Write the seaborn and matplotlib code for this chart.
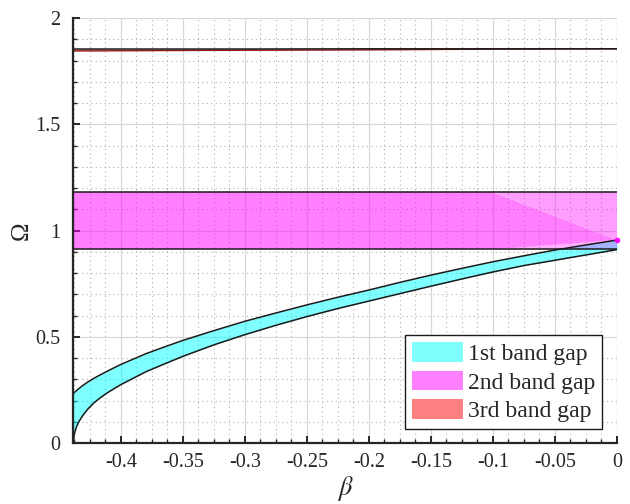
import numpy as np
import pandas as pd
import matplotlib
matplotlib.use("Agg")
import matplotlib.pyplot as plt
from matplotlib.patches import Patch, Polygon
from matplotlib.ticker import MultipleLocator, FixedLocator
import seaborn as sns

# ---- data -------------------------------------------------------------
beta_min = -0.4387
beta_max = 0.0

# 1st band gap: lower / upper edges
beta_1 = [-0.4387, -0.4375, -0.436, -0.434, -0.431, -0.427, -0.422, -0.416,
          -0.41, -0.40, -0.39, -0.38, -0.365, -0.35, -0.325, -0.30, -0.275,
          -0.25, -0.225, -0.20, -0.175, -0.15, -0.125, -0.10, -0.075, -0.05,
          -0.025, 0.0]
omega_1_low = [0.0, 0.045, 0.075, 0.100, 0.128, 0.158, 0.188, 0.216,
               0.240, 0.275, 0.305, 0.335, 0.372, 0.408, 0.462, 0.510, 0.554,
               0.595, 0.633, 0.668, 0.703, 0.738, 0.772, 0.805, 0.835, 0.860,
               0.885, 0.910]
omega_1_up = [0.232, 0.238, 0.246, 0.256, 0.270, 0.286, 0.304, 0.323,
              0.341, 0.370, 0.395, 0.420, 0.452, 0.483, 0.529, 0.573, 0.612,
              0.650, 0.686, 0.720, 0.756, 0.790, 0.822, 0.853, 0.881, 0.908,
              0.932, 0.955]

# 2nd band gap
omega_2_low = 0.911
omega_2_up = 1.18
beta_2_break = -0.10

# 3rd band gap
beta_3 = [-0.4387, -0.30, -0.20, -0.10, 0.0]
omega_3_low = [1.845, 1.848, 1.850, 1.853, 1.855]
omega_3_up = [1.854, 1.854, 1.855, 1.855, 1.855]

legend_labels = ["1st band gap", "2nd band gap", "3rd band gap"]
band_colors = ["#80FFFF", "#FF80FF", "#FF8080"]

x_ticks = [-0.4, -0.35, -0.3, -0.25, -0.2, -0.15, -0.1, -0.05, 0.0]
x_tick_labels = ["-0.4", "-0.35", "-0.3", "-0.25", "-0.2", "-0.15", "-0.1", "-0.05", "0"]
y_ticks = [0, 0.5, 1, 1.5, 2]
y_tick_labels = ["0", "0.5", "1", "1.5", "2"]

# ---- style ------------------------------------------------------------
sns.set_theme(style="white")
plt.rcParams["font.family"] = ["Liberation Serif", "DejaVu Serif"]
plt.rcParams["mathtext.fontset"] = "stix"
plt.rcParams["axes.unicode_minus"] = False

fig = plt.figure(figsize=(6.3, 5.04), dpi=100)
ax = fig.add_axes([73 / 630, 1 - 443 / 504, 544 / 630, 425 / 504])

ax.set_xlim(beta_min, beta_max)
ax.set_ylim(0, 2)

# grid
ax.xaxis.set_major_locator(FixedLocator(x_ticks))
ax.xaxis.set_minor_locator(MultipleLocator(0.0125))
ax.yaxis.set_major_locator(FixedLocator(y_ticks))
ax.yaxis.set_minor_locator(MultipleLocator(0.1))
ax.set_axisbelow(True)
ax.grid(which="major", color="#d8d8d8", lw=0.9, ls="-")
ax.grid(which="minor", color="#b0b0b0", lw=0.8, ls=(0, (1, 3)))

# 1st band gap
ax.fill_between(beta_1, omega_1_low, omega_1_up, color="cyan", alpha=0.5, lw=0, zorder=2)
df1 = pd.DataFrame({"beta": beta_1 * 2,
                    "omega": omega_1_low + omega_1_up,
                    "edge": ["low"] * len(beta_1) + ["up"] * len(beta_1)})
sns.lineplot(data=df1, x="beta", y="omega", units="edge", estimator=None,
             color="#1a1a1a", lw=1.1, ax=ax, sort=False, zorder=4)

# 2nd band gap
ax.fill_between([beta_min, beta_2_break], omega_2_low, omega_2_up,
                color="magenta", alpha=0.5, lw=0, zorder=2)
omega_1_end = omega_1_up[-1]
ax.add_patch(Polygon([(beta_2_break, omega_2_up), (beta_max, omega_1_end),
                      (beta_2_break, omega_2_low)],
                     closed=True, facecolor="magenta", alpha=0.5, lw=0, zorder=2))
ax.add_patch(Polygon([(beta_2_break, omega_2_up), (beta_max, omega_2_up),
                      (beta_max, omega_1_end)],
                     closed=True, facecolor="magenta", alpha=0.38, lw=0, zorder=2))
ax.add_patch(Polygon([(beta_2_break, omega_2_low), (beta_max, omega_1_end),
                      (beta_max, omega_2_low)],
                     closed=True, facecolor="magenta", alpha=0.3, lw=0, zorder=2))
for yv in (omega_2_low, omega_2_up):
    ax.plot([beta_min, beta_max], [yv, yv], color="#1a1a1a", lw=1.1, zorder=4)
ax.plot([beta_max], [omega_1_end], marker="o", ms=3, color="magenta",
        mec="magenta", zorder=5, clip_on=False)

# 3rd band gap
ax.fill_between(beta_3, omega_3_low, omega_3_up, color="red", alpha=0.5, lw=0, zorder=2)
ax.plot(beta_3, omega_3_low, color="#8b1a1a", lw=0.9, zorder=4)
ax.plot(beta_3, omega_3_up, color="#1a1a1a", lw=1.1, zorder=4)

# axes
for side in ("top", "right"):
    ax.spines[side].set_visible(False)
for side in ("left", "bottom"):
    ax.spines[side].set_color("#262626")
    ax.spines[side].set_linewidth(1.6)
    ax.spines[side].set_zorder(6)

ax.set_xticklabels(x_tick_labels)
ax.set_yticklabels(y_tick_labels)
ax.tick_params(which="major", direction="in", length=5, width=1.4,
               color="#262626", labelsize=14.5, labelcolor="#262626", pad=7)
ax.tick_params(which="minor", direction="in", length=3, width=1.0,
               color="#262626")
ax.tick_params(axis="x", which="both", bottom=True)
ax.tick_params(axis="y", which="both", left=True)
ax.tick_params(axis="y", pad=9)

ax.set_xlabel(r"$\beta$", fontsize=19, color="#262626", va="center", ha="center")
ax.set_ylabel("Ω", fontsize=18, color="#262626", va="center", ha="center",
              rotation=90)
ax.xaxis.set_label_coords(0.5, -0.108)
ax.yaxis.set_label_coords(-0.094, 0.5)

handles = [Patch(facecolor=c, edgecolor="none") for c in band_colors]
leg = ax.legend(handles, legend_labels, loc="lower right",
                bbox_to_anchor=(0.9725, 0.033), fontsize=17, frameon=True,
                fancybox=False, edgecolor="#1a1a1a", framealpha=1,
                handlelength=2.15, handleheight=0.92, handletextpad=0.2,
                labelspacing=0.22, borderpad=0.3, borderaxespad=0.0)
leg.get_frame().set_linewidth(1.0)
leg.set_zorder(10)

fig.savefig("out.png", dpi=100)
